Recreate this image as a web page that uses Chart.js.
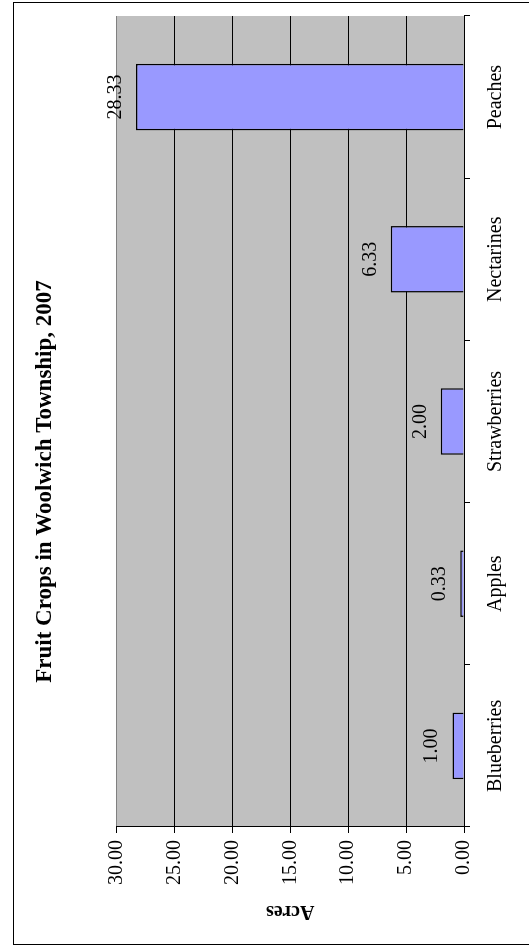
<!DOCTYPE html>
<html>
<head>
<meta charset="utf-8">
<script src="https://cdn.jsdelivr.net/npm/chart.js@4/dist/chart.umd.min.js"></script>
<style>
  html, body { margin: 0; padding: 0; width: 529px; height: 947px; overflow: hidden; background: #fff; }
  /* chart is laid out landscape, then turned a quarter counter-clockwise */
  #page { position: absolute; left: 0; top: 947px; width: 947px; height: 529px; transform-origin: 0 0; transform: rotate(-90deg); }
  #frame { position: absolute; left: 2px; top: 13px; width: 941px; height: 560px; border: 1px solid #000; }
  #chart { position: absolute; left: 0; top: 0; }
</style>
</head>
<body>
<div id="page">
  <div id="frame"></div>
  <canvas id="chart" width="947" height="529"></canvas>
</div>
<script>
const categories = ['Blueberries', 'Apples', 'Strawberries', 'Nectarines', 'Peaches'];
const acres = [1.00, 0.33, 2.00, 6.33, 28.33];
const acreTicks = [0, 5, 10, 15, 20, 25, 30];

Chart.defaults.font.family = '"Liberation Serif", "Times New Roman", serif';
Chart.defaults.font.size = 20;
Chart.defaults.color = '#000';

// grey plot area behind the bars
const plotBackground = {
  id: 'plotBackground',
  beforeDraw(chart) {
    const { ctx, chartArea: a } = chart;
    ctx.save();
    ctx.fillStyle = '#c0c0c0';
    ctx.fillRect(a.left, a.top, a.right - a.left, a.bottom - a.top);
    ctx.restore();
  }
};

// value printed above each bar
const barValues = {
  id: 'barValues',
  afterDatasetsDraw(chart) {
    const { ctx } = chart;
    const meta = chart.getDatasetMeta(0);
    ctx.save();
    ctx.font = '20px "Liberation Serif", "Times New Roman", serif';
    ctx.fillStyle = '#000';
    ctx.textAlign = 'center';
    ctx.textBaseline = 'alphabetic';
    meta.data.forEach((bar, i) => {
      ctx.fillText(acres[i].toFixed(2), bar.x, bar.y - 15);
    });
    ctx.restore();
  }
};

let ctx = document.getElementById('chart').getContext('2d');
let chart = new Chart(ctx, {
  type: 'bar',
  data: {
    labels: categories,
    datasets: [
      {
        label: 'Acres',
        data: acres,
        backgroundColor: '#9999ff',
        borderColor: '#000',
        borderWidth: 1.5,
        barPercentage: 0.41,
        categoryPercentage: 1
      }
    ]
  },
  options: {
    responsive: false,
    animation: false,
    layout: { padding: { left: 0, right: 16, top: 0, bottom: 0 } },
    plugins: {
      legend: { display: false },
      tooltip: { enabled: false },
      title: {
        display: true,
        text: 'Fruit Crops in Woolwich Township, 2007',
        color: '#000',
        font: { size: 23, weight: 'bold' },
        padding: { top: 31, bottom: 58 }
      }
    },
    scales: {
      x: {
        grid: { offset: true, drawOnChartArea: false, drawTicks: true, tickLength: 6, color: '#000' },
        border: { color: '#000' },
        ticks: { padding: 14, maxRotation: 0, autoSkip: false },
        afterFit(scale) { scale.height = 65; }
      },
      y: {
        min: 0,
        max: 30,
        afterBuildTicks(scale) { scale.ticks = acreTicks.map(v => ({ value: v })); },
        grid: {
          color: c => (c.tick && c.tick.value === 30 ? '#808080' : '#000'),
          tickColor: '#000',
          tickLength: 6
        },
        border: { color: '#000' },
        ticks: { padding: 7, callback: v => v.toFixed(2) },
        title: {
          display: true,
          text: 'Acres',
          font: { size: 20, weight: 'bold' },
          padding: { top: 24, bottom: 0 }
        },
        afterFit(scale) { scale.width = 120; }
      }
    }
  },
  plugins: [plotBackground, barValues]
});
</script>
</body>
</html>
